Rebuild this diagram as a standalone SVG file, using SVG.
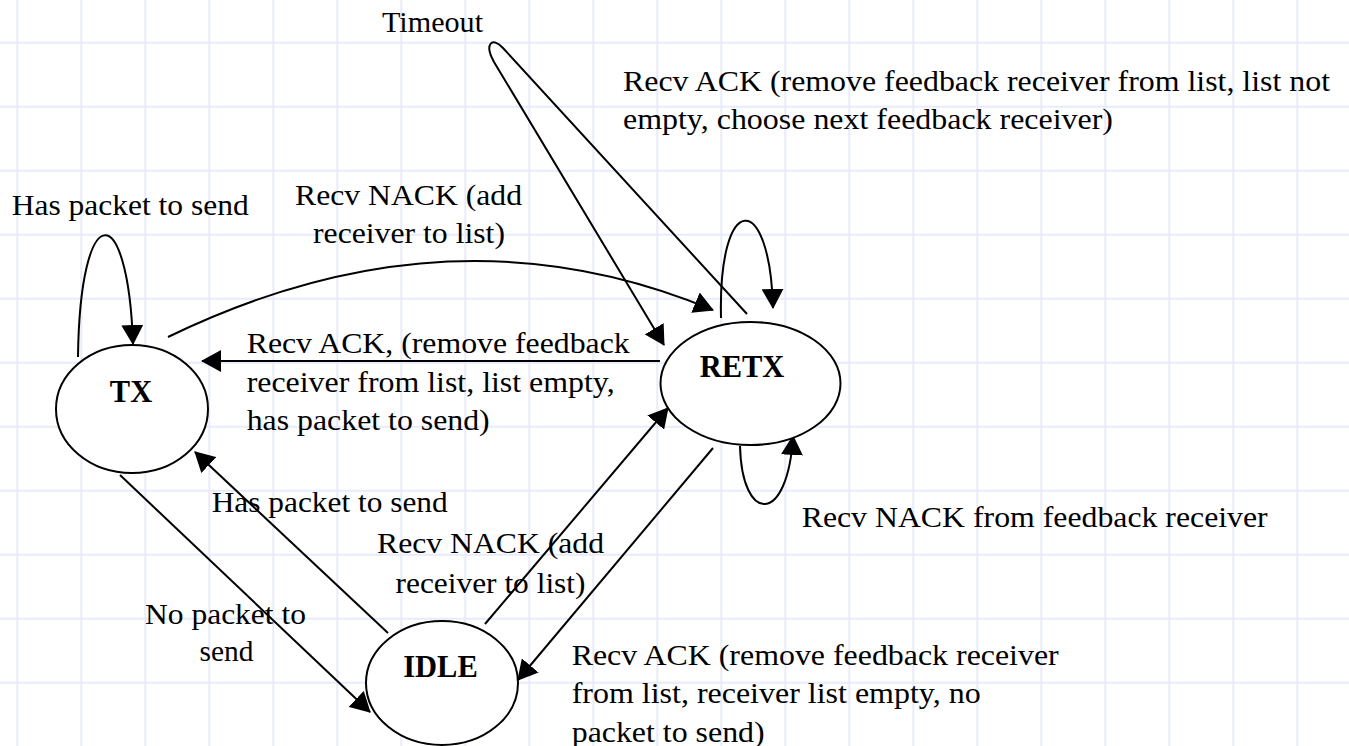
<svg xmlns="http://www.w3.org/2000/svg" width="1349" height="746" viewBox="0 0 1349 746">
<style>
.grid{stroke:#e8ebfa;stroke-width:2;fill:none}
.node{fill:#fff;stroke:#000;stroke-width:2}
.edge{fill:none;stroke:#000;stroke-width:2;marker-end:url(#ah)}
.t{font-family:'Liberation Serif',serif;font-size:28.5px;fill:#000}
.b{font-family:'Liberation Serif',serif;font-size:30.5px;font-weight:bold;fill:#000;text-anchor:middle}
.m{text-anchor:middle}
</style>
<defs>
<marker id="ah" markerUnits="userSpaceOnUse" markerWidth="20" markerHeight="22" viewBox="0 0 20 22" refX="19" refY="11" orient="auto"><path d="M0,0 L20,11 L0,22 z" fill="#000"/></marker>
</defs>
<rect width="1349" height="746" fill="#fff"/>
<path class="grid" d="M17.3,0V746M81.3,0V746M145.3,0V746M209.3,0V746M273.3,0V746M337.3,0V746M401.3,0V746M465.3,0V746M529.3,0V746M593.3,0V746M657.3,0V746M721.3,0V746M785.3,0V746M849.3,0V746M913.3,0V746M977.3,0V746M1041.3,0V746M1105.3,0V746M1169.3,0V746M1233.3,0V746M1297.3,0V746M0,42.7H1349M0,106.7H1349M0,170.7H1349M0,234.7H1349M0,298.7H1349M0,362.7H1349M0,426.7H1349M0,490.7H1349M0,554.7H1349M0,618.7H1349M0,682.7H1349"/>
<g id="connectors">
<path class="edge" d="M78,357 C80,197 128,197 133,344"/>
<path class="edge" d="M168,337 Q450,200 713,310"/>
<path class="edge" d="M660,361 L202,361"/>
<path class="edge" d="M747,314 L503,48 C492,36 484,44 494,62 L664,345"/>
<path class="edge" d="M721,318 C718,190 770,190 773,308"/>
<path class="edge" d="M740,446 C742,525 788,525 793,436"/>
<path class="edge" d="M388,633 L195,452"/>
<path class="edge" d="M120,475 L370,712"/>
<path class="edge" d="M485,624 L668,408"/>
<path class="edge" d="M713,448 L518,680"/>
</g>
<g id="node-tx">
<ellipse class="node" cx="132" cy="409" rx="76" ry="64"/>
<text class="b" x="131" y="401.7">TX</text>
</g>
<g id="node-retx">
<ellipse class="node" cx="750.5" cy="383.5" rx="90" ry="61.5"/>
<text class="b" x="742" y="377">RETX</text>
</g>
<g id="node-idle">
<ellipse class="node" cx="442" cy="683" rx="76" ry="62"/>
<text class="b" x="440.5" y="677">IDLE</text>
</g>
<g id="labels">
<text class="t" x="382" y="31.7" textLength="101" lengthAdjust="spacingAndGlyphs">Timeout</text>
<text class="t" x="623" y="91" textLength="707" lengthAdjust="spacingAndGlyphs">Recv ACK (remove feedback receiver from list, list not</text>
<text class="t" x="623" y="128.5" textLength="490" lengthAdjust="spacingAndGlyphs">empty, choose next feedback receiver)</text>
<text class="t" x="11.7" y="215" textLength="237" lengthAdjust="spacingAndGlyphs">Has packet to send</text>
<text class="t m" x="408.5" y="205" textLength="227" lengthAdjust="spacingAndGlyphs">Recv NACK (add</text>
<text class="t m" x="409" y="243" textLength="192" lengthAdjust="spacingAndGlyphs">receiver to list)</text>
<text class="t" x="246.7" y="353.3" textLength="383" lengthAdjust="spacingAndGlyphs">Recv ACK, (remove feedback</text>
<text class="t" x="246.7" y="391.7" textLength="368" lengthAdjust="spacingAndGlyphs">receiver from list, list empty,</text>
<text class="t" x="246.7" y="430" textLength="243" lengthAdjust="spacingAndGlyphs">has packet to send)</text>
<text class="t" x="211.7" y="511.7" textLength="236" lengthAdjust="spacingAndGlyphs">Has packet to send</text>
<text class="t m" x="490.5" y="553.3" textLength="227" lengthAdjust="spacingAndGlyphs">Recv NACK (add</text>
<text class="t m" x="490.5" y="593.3" textLength="190" lengthAdjust="spacingAndGlyphs">receiver to list)</text>
<text class="t m" x="225.5" y="624" textLength="161" lengthAdjust="spacingAndGlyphs">No packet to</text>
<text class="t m" x="226.5" y="660.7" textLength="54" lengthAdjust="spacingAndGlyphs">send</text>
<text class="t" x="801.7" y="526.7" textLength="466" lengthAdjust="spacingAndGlyphs">Recv NACK from feedback receiver</text>
<text class="t" x="571.7" y="665" textLength="487" lengthAdjust="spacingAndGlyphs">Recv ACK (remove feedback receiver</text>
<text class="t" x="571.7" y="703.3" textLength="409" lengthAdjust="spacingAndGlyphs">from list, receiver list empty, no</text>
<text class="t" x="571.7" y="741.7" textLength="193" lengthAdjust="spacingAndGlyphs">packet to send)</text>
</g>
</svg>
